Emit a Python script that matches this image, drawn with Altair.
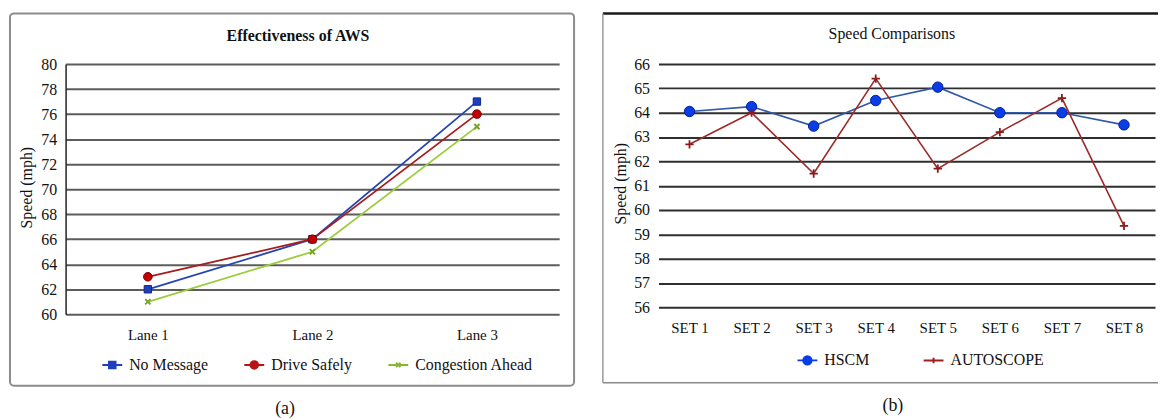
import altair as alt
import pandas as pd

# ---------------- data (a) ----------------
lanes = ["Lane 1", "Lane 2", "Lane 3"]
series_a = ["No Message", "Drive Safely", "Congestion Ahead"]
no_message = [62, 66, 77]
drive_safely = [63, 66, 76]
congestion_ahead = [61, 65, 75]
ticks_a = [60, 62, 64, 66, 68, 70, 72, 74, 76, 78, 80]

# ---------------- data (b) ----------------
sets = ["SET 1", "SET 2", "SET 3", "SET 4", "SET 5", "SET 6", "SET 7", "SET 8"]
series_b = ["HSCM", "AUTOSCOPE"]
hscm = [64.05, 64.25, 63.45, 64.5, 65.05, 64.0, 64.0, 63.5]
autoscope = [62.7, 64.0, 61.5, 65.4, 61.7, 63.2, 64.6, 59.35]
ticks_b = [56, 57, 58, 59, 60, 61, 62, 63, 64, 65, 66]

title_a = "Effectiveness of AWS"
title_b = "Speed Comparisons"
caption_a = "(a)"
caption_b = "(b)"
y_title = "Speed (mph)"

FONT = "Liberation Serif"

rows_a = []
for name, vals in zip(series_a, [no_message, drive_safely, congestion_ahead]):
    for lane, v in zip(lanes, vals):
        rows_a.append({"lane": lane, "series": name, "speed": v})
df_a = pd.DataFrame(rows_a)

rows_b = []
for name, vals in zip(series_b, [hscm, autoscope]):
    for s, v in zip(sets, vals):
        rows_b.append({"set": s, "series": name, "speed": v})
df_b = pd.DataFrame(rows_b)

one = pd.DataFrame({"k": [0]})

# ---------------- chart (a) ----------------
W_A, H_A = 497, 252
line_colors_a = ["#2444b4", "#a81c1c", "#9ccc3a"]
legend_colors_a = ["#1f3fbf", "#b81414", "#88b830"]
legend_paths_a = [
    "M-1,0L1,0M-0.33,-0.33L0.33,-0.33L0.33,0.33L-0.33,0.33Z",
    "M-1,0L1,0M0.38,0A0.38,0.38,0,1,1,-0.38,0A0.38,0.38,0,1,1,0.38,0Z",
    "M-1,0L1,0M-0.22,-0.22L0.22,0.22M-0.22,0.22L0.22,-0.22",
]

x_a = alt.X(
    "lane:N", sort=lanes, scale=alt.Scale(type="point", padding=0.5),
    axis=alt.Axis(title=None, domain=False, ticks=False, grid=False, labelAngle=0,
                  labelFont=FONT, labelFontSize=15, labelColor="#111", labelPadding=13),
)
y_a = alt.Y(
    "speed:Q", scale=alt.Scale(domain=[60, 80], nice=False, zero=False),
    axis=alt.Axis(values=ticks_a, title=y_title, ticks=False, domain=True,
                  domainColor="#222", domainWidth=1.5, grid=True, gridColor="#5c5c5c",
                  gridWidth=2, labelFont=FONT, labelFontSize=16, labelColor="#111",
                  labelPadding=9, titleFont=FONT, titleFontSize=16, titleFontWeight="normal",
                  titleColor="#111", titleX=-39, titleY=124, titleAngle=270,
                  titleAlign="center", titleBaseline="middle"),
)
base_a = alt.Chart(df_a).encode(x=x_a, y=y_a)

frame_a = alt.Chart(one).mark_rect(fill="transparent", stroke="#8c8c8c", strokeWidth=2,
                                   cornerRadius=4).encode(
    x=alt.value(-56), x2=alt.value(512), y=alt.value(-51), y2=alt.value(324))

lines_a = [
    base_a.transform_filter(alt.datum.series == name).mark_line(strokeWidth=1.8, color=c)
    for name, c in zip(series_a, line_colors_a)
]

pts_nm = base_a.transform_filter(alt.datum.series == series_a[0]).mark_point(
    shape="square", filled=True, fill="#1f3fbf", stroke="#0f2585", strokeWidth=1, size=55, opacity=1)
pts_ds = base_a.transform_filter(alt.datum.series == series_a[1]).mark_point(
    shape="circle", filled=True, fill="#c40000", stroke="#7a0000", strokeWidth=1, size=75, opacity=1)
pts_ca = base_a.transform_filter(alt.datum.series == series_a[2]).mark_point(
    shape="M-1,-1L1,1M-1,1L1,-1", filled=False, stroke="#78a428", strokeWidth=2, size=28, opacity=1)

leg_a = dict(title=None, orient="none", legendX=36, legendY=292, direction="horizontal",
             columns=3, columnPadding=32, labelFont=FONT, labelFontSize=16, labelColor="#111",
             labelOffset=6, symbolSize=400, symbolStrokeWidth=2, padding=0, labelLimit=400)
legend_a = base_a.mark_point(filled=True, fillOpacity=0, strokeOpacity=0).encode(
    fill=alt.Fill("series:N", scale=alt.Scale(domain=series_a, range=legend_colors_a),
                  legend=alt.Legend(**leg_a)),
    stroke=alt.Stroke("series:N", scale=alt.Scale(domain=series_a, range=legend_colors_a),
                      legend=alt.Legend(**leg_a)),
    shape=alt.Shape("series:N", scale=alt.Scale(domain=series_a, range=legend_paths_a),
                    legend=alt.Legend(**leg_a)),
)

ttl_a = alt.Chart(one).mark_text(text=title_a, font=FONT, fontSize=16, fontWeight="bold",
                                 color="#111", align="center", baseline="middle").encode(
    x=alt.value(234), y=alt.value(-28))
cap_a = alt.Chart(one).mark_text(text=caption_a, font=FONT, fontSize=18, color="#111",
                                 align="center", baseline="middle").encode(
    x=alt.value(221), y=alt.value(347))

chart_a = alt.layer(frame_a, *lines_a, pts_nm, pts_ds, pts_ca, legend_a, ttl_a, cap_a).properties(
    width=W_A, height=H_A)

# ---------------- chart (b) ----------------
W_B, H_B = 500, 245
line_colors_b = ["#3159a8", "#9c2a2a"]
legend_colors_b = ["#0a3ce8", "#9c2020"]
legend_paths_b = [
    "M-1,0L1,0M0.42,0A0.42,0.42,0,1,1,-0.42,0A0.42,0.42,0,1,1,0.42,0Z",
    "M-1,0L1,0M0,-0.28L0,0.28",
]

x_b = alt.X(
    "set:N", sort=sets, scale=alt.Scale(type="point", padding=0.5),
    axis=alt.Axis(title=None, domain=False, ticks=False, grid=False, labelAngle=0,
                  labelFont=FONT, labelFontSize=15, labelColor="#111", labelPadding=13),
)
y_b = alt.Y(
    "speed:Q", scale=alt.Scale(domain=[56, 66], nice=False, zero=False),
    axis=alt.Axis(values=ticks_b, title=y_title, ticks=False, domain=False, grid=True,
                  gridColor="#2e2e2e", gridWidth=2, labelFont=FONT, labelFontSize=16,
                  labelColor="#111", labelPadding=9, titleFont=FONT, titleFontSize=16,
                  titleFontWeight="normal", titleColor="#111", titleX=-38, titleY=120,
                  titleAngle=270, titleAlign="center", titleBaseline="middle"),
)
base_b = alt.Chart(df_b).encode(x=x_b, y=y_b)

top_b = alt.Chart(one).mark_rule(color="#1a1a1a", strokeWidth=2.5).encode(
    x=alt.value(-56), x2=alt.value(503), y=alt.value(-51))
left_b = alt.Chart(one).mark_rule(color="#9a9a9a", strokeWidth=1.5).encode(
    x=alt.value(-56), y=alt.value(-51), y2=alt.value(321))
bottom_b = alt.Chart(one).mark_rule(color="#8a8a8a", strokeWidth=1.5).encode(
    x=alt.value(-56), x2=alt.value(503), y=alt.value(321))
spacer_b = alt.Chart(one).mark_rule(opacity=0).encode(
    x=alt.value(0), x2=alt.value(10), y=alt.value(-55))

lines_b = [
    base_b.transform_filter(alt.datum.series == name).mark_line(strokeWidth=1.6, color=c)
    for name, c in zip(series_b, line_colors_b)
]

pts_h = base_b.transform_filter(alt.datum.series == series_b[0]).mark_point(
    shape="circle", filled=True, fill="#0a3ce8", stroke="#00209a", strokeWidth=1, size=110, opacity=1)
pts_au = base_b.transform_filter(alt.datum.series == series_b[1]).mark_point(
    shape="M-1,0L1,0M0,-1L0,1", filled=False, stroke="#8b1a1a", strokeWidth=1.8, size=70, opacity=1)

leg_b = dict(title=None, orient="none", legendX=139, legendY=287, direction="horizontal",
             columns=2, columnPadding=50, labelFont=FONT, labelFontSize=16, labelColor="#111",
             labelOffset=6, symbolSize=400, symbolStrokeWidth=2, padding=0, labelLimit=400)
legend_b = base_b.mark_point(filled=True, fillOpacity=0, strokeOpacity=0).encode(
    fill=alt.Fill("series:N", scale=alt.Scale(domain=series_b, range=legend_colors_b),
                  legend=alt.Legend(**leg_b)),
    stroke=alt.Stroke("series:N", scale=alt.Scale(domain=series_b, range=legend_colors_b),
                      legend=alt.Legend(**leg_b)),
    shape=alt.Shape("series:N", scale=alt.Scale(domain=series_b, range=legend_paths_b),
                    legend=alt.Legend(**leg_b)),
)

ttl_b = alt.Chart(one).mark_text(text=title_b, font=FONT, fontSize=16, color="#111",
                                 align="center", baseline="middle").encode(
    x=alt.value(235), y=alt.value(-30))
cap_b = alt.Chart(one).mark_text(text=caption_b, font=FONT, fontSize=18, color="#111",
                                 align="center", baseline="middle").encode(
    x=alt.value(236), y=alt.value(344))

chart_b = alt.layer(spacer_b, top_b, left_b, bottom_b, *lines_b, pts_h, pts_au, legend_b,
                    ttl_b, cap_b).properties(width=W_B, height=H_B)

chart = alt.hconcat(chart_a, chart_b, spacing=26).resolve_scale(
    fill="independent", stroke="independent", shape="independent"
).resolve_legend(
    fill="independent", stroke="independent", shape="independent"
).properties(
    padding={"left": 1, "top": 0, "right": 0, "bottom": 0}, background="white"
).configure_view(stroke=None)

chart.save("out.html", embed_options={"renderer": "svg", "actions": False})
